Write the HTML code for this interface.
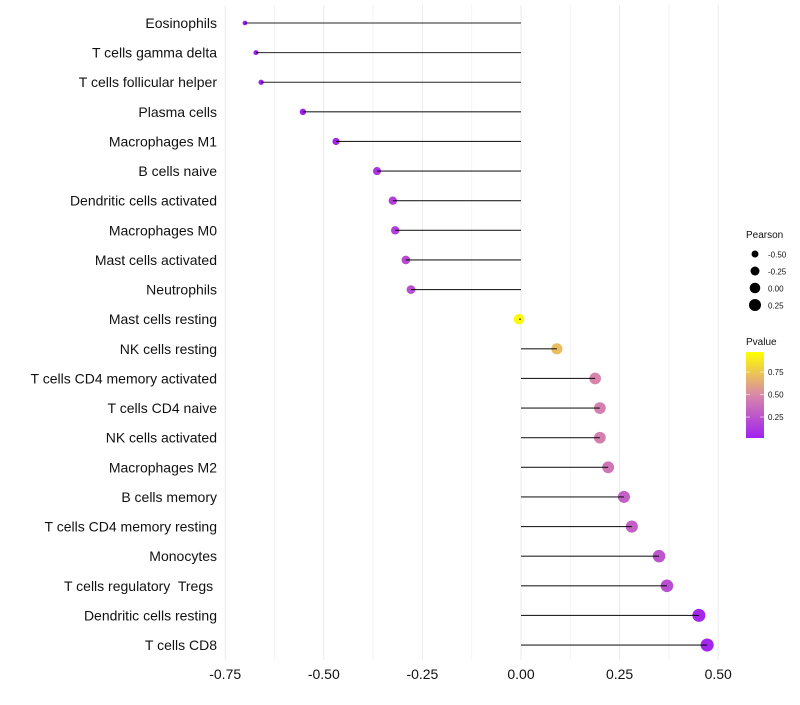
<!DOCTYPE html>
<html><head><meta charset="utf-8"><style>
body{margin:0;background:#fff;font-family:"Liberation Sans",sans-serif}
text{white-space:pre}
</style></head><body>
<svg id="chart" width="800" height="700" xmlns="http://www.w3.org/2000/svg" font-family="Liberation Sans, sans-serif"></svg>
<script>
const categories=["Eosinophils","T cells gamma delta","T cells follicular helper","Plasma cells","Macrophages M1","B cells naive","Dendritic cells activated","Macrophages M0","Mast cells activated","Neutrophils","Mast cells resting","NK cells resting","T cells CD4 memory activated","T cells CD4 naive","NK cells activated","Macrophages M2","B cells memory","T cells CD4 memory resting","Monocytes","T cells regulatory  Tregs ","Dendritic cells resting","T cells CD8"];
const pearson=[-0.70,-0.672,-0.659,-0.553,-0.469,-0.365,-0.325,-0.319,-0.292,-0.279,-0.005,0.091,0.188,0.200,0.200,0.221,0.261,0.281,0.350,0.370,0.451,0.472];
const pvalue=[0.0,0.0,0.0,0.01,0.03,0.1,0.15,0.15,0.2,0.22,0.97,0.72,0.47,0.45,0.45,0.4,0.3,0.3,0.25,0.22,0.04,0.03];
const xTicks=[-0.75,-0.5,-0.25,0,0.25,0.5];
const xTickLabels=["-0.75","-0.50","-0.25","0.00","0.25","0.50"];
const sizeLegend=[-0.5,-0.25,0,0.25];
const pLegend=[0.25,0.5,0.75];

const NS="http://www.w3.org/2000/svg";
const svg=document.getElementById('chart');
const xs=v=>521+v*394.4;
const ys=i=>23+i*29.62;
const rs=v=>Math.sqrt(Math.max(2,28+32*v));
function lerp(a,b,t){return a.map((x,i)=>Math.round(x+(b[i]-x)*t));}
function col(p){const s0=[160,32,240],s1=[217,138,168],s2=[255,255,0];
 const c=p<0.5?lerp(s0,s1,p/0.5):lerp(s1,s2,(p-0.5)/0.5);return `rgb(${c})`;}
function mk(tag,attrs,parent){const e=document.createElementNS(NS,tag);for(const k in attrs)e.setAttribute(k,attrs[k]);(parent||svg).appendChild(e);return e;}

for(let i=0;i<xTicks.length;i++){
 const g=mk('line',{x1:xs(xTicks[i]),x2:xs(xTicks[i]),y1:5,y2:660,stroke:'#ebebeb','stroke-width':1});
 
 
 if(i<xTicks.length-1){const m=(xTicks[i]+xTicks[i+1])/2;
  const g2=mk('line',{x1:xs(m),x2:xs(m),y1:5,y2:660,stroke:'#f4f4f4','stroke-width':1});
  
  }
 const t=mk('text',{x:xs(xTicks[i]),y:679,'text-anchor':'middle','font-size':14,fill:'#111'});
 t.textContent=xTickLabels[i];
 
 
}
categories.forEach((c,i)=>{
 const y=ys(i);
 const lab=mk('text',{x:217,y:y+5,'text-anchor':'end','font-size':14,fill:'#111'});
 lab.textContent=c;
 
 
 const pt=mk('circle',{cx:xs(pearson[i]),cy:y,r:rs(pearson[i]),fill:col(pvalue[i])});
 
 
 const seg=mk('line',{x1:xs(0),x2:xs(pearson[i]),y1:y,y2:y,stroke:'#000','stroke-width':1.1,'stroke-opacity':0.85});
 
 
});
const lt=mk('text',{x:746,y:238,'font-size':10,fill:'#111'});lt.textContent='Pearson';


sizeLegend.forEach((v,i)=>{
 const y=254+i*17;
 const c=mk('circle',{cx:755,cy:y,r:rs(v),fill:'#000'});
 
 
 const t=mk('text',{x:768,y:y+3.5,'font-size':8,fill:'#111'});t.textContent=v.toFixed(2);
 
 
});
const ct=mk('text',{x:746,y:345,'font-size':10,fill:'#111'});ct.textContent='Pvalue';


const defs=mk('defs',{});
const gr=mk('linearGradient',{id:'pg',x1:0,y1:1,x2:0,y2:0},defs);
[[0,0.01],[0.5,0.49],[1,1]].forEach(([o,p])=>mk('stop',{offset:o,'stop-color':col(p)},gr));
const bar=mk('rect',{x:746,y:352,width:18,height:86,fill:'url(#pg)'});


const pys=p=>438-(p-0.017)*90;
pLegend.forEach(p=>{
 const y=pys(p);
 mk('line',{x1:746,x2:750,y1:y,y2:y,stroke:'#fff','stroke-opacity':0.6});
 mk('line',{x1:760,x2:764,y1:y,y2:y,stroke:'#fff','stroke-opacity':0.6});
 const t=mk('text',{x:768,y:y+3,'font-size':8,fill:'#111'});t.textContent=p.toFixed(2);
 
 
});
</script>
</body></html>
